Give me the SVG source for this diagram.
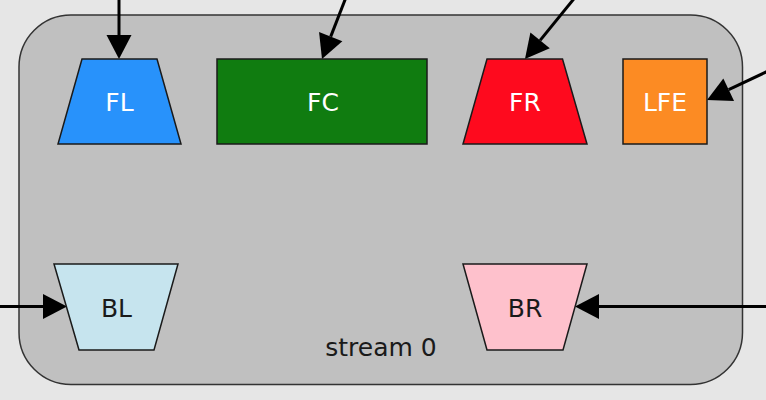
<svg xmlns="http://www.w3.org/2000/svg" width="766" height="400" viewBox="0 0 766 400">
<defs>
<style>
.node{stroke:#1a1a1a;stroke-width:1.5}
.lbl{font-family:"DejaVu Sans",Verdana,sans-serif;font-size:25px;text-anchor:middle}
.w{fill:#ffffff}
.k{fill:#1a1a1a}
.edge{stroke:#000;stroke-width:3;fill:none}
</style>
<marker id="ah" markerUnits="userSpaceOnUse" markerWidth="25" markerHeight="26" refX="0" refY="12.5" orient="auto" overflow="visible">
<path d="M0,0 L24,12.5 L0,25 Z" fill="#000"/>
</marker>
</defs>
<rect x="0" y="0" width="766" height="400" fill="#e6e6e6"/>
<g id="cluster_stream0">
<rect x="19" y="15" width="723.5" height="369.5" rx="52" ry="52" fill="#c0c0c0" stroke="#333" stroke-width="1.5"/>
<text class="lbl k" x="381" y="356">stream 0</text>
</g>
<g id="edges">
<line class="edge" x1="119" y1="-5" x2="119" y2="35" marker-end="url(#ah)"/>
<line class="edge" x1="350.4" y1="-14" x2="330.7" y2="36.6" marker-end="url(#ah)"/>
<line class="edge" x1="584.3" y1="-14" x2="540.1" y2="40.4" marker-end="url(#ah)"/>
<line class="edge" x1="780" y1="65.4" x2="728.7" y2="89.7" marker-end="url(#ah)"/>
<line class="edge" x1="-5" y1="306.5" x2="43" y2="306.5" marker-end="url(#ah)"/>
<line class="edge" x1="771" y1="306.5" x2="599" y2="306.5" marker-end="url(#ah)"/>
</g>
<g id="FL">
<polygon class="node" points="82,59 157,59 181,144 58,144" fill="#2892fb"/>
<text class="lbl w" x="119.5" y="111">FL</text>
</g>
<g id="FC">
<rect class="node" x="217" y="59" width="210" height="85" fill="#107c10"/>
<text class="lbl w" x="323" y="111">FC</text>
</g>
<g id="FR">
<polygon class="node" points="487,59 562.5,59 587,144 463,144" fill="#fe0a1e"/>
<text class="lbl w" x="525" y="111">FR</text>
</g>
<g id="LFE">
<rect class="node" x="623" y="59" width="84" height="85" fill="#fc8b23"/>
<text class="lbl w" x="665" y="111">LFE</text>
</g>
<g id="BL">
<polygon class="node" points="54,264 178,264 154,350 79,350" fill="#c6e4ee"/>
<text class="lbl k" x="116.5" y="317">BL</text>
</g>
<g id="BR">
<polygon class="node" points="463,264 587,264 563,350 487,350" fill="#fec1cc"/>
<text class="lbl k" x="525" y="317">BR</text>
</g>
</svg>
